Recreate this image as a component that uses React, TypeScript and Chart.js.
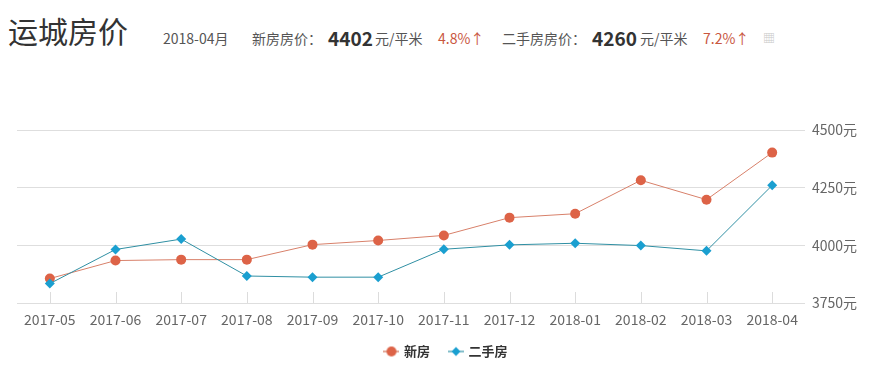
import React, { useEffect, useRef } from "react";
import { Chart, registerables } from "chart.js";

Chart.register(...registerables);

const months = ["2017-05", "2017-06", "2017-07", "2017-08", "2017-09", "2017-10", "2017-11", "2017-12", "2018-01", "2018-02", "2018-03", "2018-04"];
const newHouse = [3856, 3934, 3938, 3938, 4003, 4021, 4043, 4120, 4137, 4282, 4198, 4402];
const secondHand = [3834, 3982, 4027, 3867, 3862, 3862, 3983, 4002, 4009, 3999, 3976, 4260];
const yTicks = [3750, 4000, 4250, 4500];

const FONT = "'Noto Sans CJK SC', 'Noto Sans', sans-serif";

function makeLegendIcon(kind: "circle" | "diamond", line: string, fill: string) {
  const c = document.createElement("canvas");
  c.width = 16;
  c.height = 12;
  const ctx = c.getContext("2d")!;
  ctx.strokeStyle = line;
  ctx.lineWidth = 1.5;
  ctx.beginPath();
  ctx.moveTo(0, 6);
  ctx.lineTo(16, 6);
  ctx.stroke();
  ctx.fillStyle = fill;
  ctx.beginPath();
  if (kind === "circle") {
    ctx.arc(8, 6, 5, 0, Math.PI * 2);
  } else {
    ctx.moveTo(8, 1.5);
    ctx.lineTo(12.5, 6);
    ctx.lineTo(8, 10.5);
    ctx.lineTo(3.5, 6);
    ctx.closePath();
  }
  ctx.fill();
  return c;
}

const upTicks = {
  id: "upTicks",
  afterDatasetsDraw(chart: any) {
    const xs = chart.scales.x;
    const area = chart.chartArea;
    const ctx = chart.ctx;
    ctx.save();
    ctx.strokeStyle = "#dcdcdc";
    ctx.lineWidth = 1;
    for (let i = 0; i < months.length; i++) {
      const x = Math.round(xs.getPixelForTick(i)) + 0.5;
      ctx.beginPath();
      ctx.moveTo(x, area.bottom - 11);
      ctx.lineTo(x, area.bottom);
      ctx.stroke();
    }
    ctx.restore();
  },
};

function LineChart() {
  const ref = useRef<HTMLCanvasElement>(null);
  useEffect(() => {
    if (!ref.current) return;
    Chart.defaults.font.family = FONT;
    const icons = [
      makeLegendIcon("circle", "#d98a74", "#dd6347"),
      makeLegendIcon("diamond", "#5aa9b8", "#1a9fd0"),
    ];
    const chart = new Chart(ref.current, {
      type: "line",
      data: {
        labels: months,
        datasets: [
          {
            label: "新房",
            data: newHouse,
            borderColor: "#d8806a",
            borderWidth: 1,
            pointStyle: "circle",
            pointRadius: 5,
            pointBackgroundColor: "#dd6347",
            pointBorderColor: "#dd6347",
            pointBorderWidth: 0,
            tension: 0,
            order: 1,
          },
          {
            label: "二手房",
            data: secondHand,
            borderColor: "#2f8fa3",
            borderWidth: 1,
            pointStyle: "rectRot",
            pointRadius: 5,
            pointBackgroundColor: "#1a9fd0",
            pointBorderColor: "#1a9fd0",
            pointBorderWidth: 0,
            tension: 0,
            order: 0,
          },
        ],
      },
      options: {
        animation: false,
        responsive: false,
        maintainAspectRatio: false,
        layout: { padding: { left: 9, top: 30, right: 0, bottom: 2 } },
        plugins: {
          tooltip: { enabled: false },
          legend: {
            position: "bottom",
            labels: {
              usePointStyle: true,
              pointStyleWidth: 12,
              padding: 20,
              color: "#333",
              font: { size: 13, weight: "bold", family: FONT },
              generateLabels(chart: any) {
                const items = Chart.defaults.plugins.legend.labels.generateLabels(chart);
                items.sort((a: any, b: any) => a.datasetIndex - b.datasetIndex);
                items.forEach((it: any) => {
                  it.pointStyle = icons[it.datasetIndex];
                });
                return items;
              },
            },
          },
        },
        scales: {
          x: {
            offset: true,
            grid: { display: false, drawTicks: false },
            border: { display: false },
            ticks: {
              color: "#666",
              padding: 8,
              maxRotation: 0,
              autoSkip: false,
              font: { size: 14, family: FONT },
            },
            afterFit(scale: any) {
              scale.height = 22;
            },
          },
          y: {
            position: "right",
            min: 3750,
            max: 4500,
            afterBuildTicks(scale: any) {
              scale.ticks = yTicks.map((v) => ({ value: v }));
            },
            grid: { color: "#dedede", lineWidth: 1, drawTicks: false },
            border: { display: false },
            ticks: {
              color: "#666",
              padding: 7,
              font: { size: 14, family: FONT },
              callback: (v: any) => v + "元",
            },
            afterFit(scale: any) {
              scale.width = 71;
            },
          },
        },
      },
      plugins: [upTicks],
    } as any);
    return () => chart.destroy();
  }, []);
  return <canvas ref={ref} width={868} height={270} style={{ position: "absolute", left: 0, top: 92, width: 868, height: 270 }} />;
}

const abs = (left: number, top: number, size: number, color: string, weight = 400): React.CSSProperties => ({
  position: "absolute",
  left,
  top,
  fontSize: size,
  lineHeight: size + "px",
  color,
  fontWeight: weight,
  whiteSpace: "nowrap",
  fontFamily: FONT,
});

export default function App() {
  return (
    <div style={{ position: "relative", width: 868, height: 364, background: "#fff", fontFamily: FONT }}>
      <div style={abs(0, 7, 30, "#333")}>运城房价</div>
      <div style={abs(155, 23, 14, "#555")}>2018-04月</div>
      <div style={abs(244, 23, 14, "#555")}>新房房价：</div>
      <div style={abs(320, 20, 19, "#333", 700)}>4402</div>
      <div style={abs(367, 23, 14, "#555")}>元/平米</div>
      <div style={abs(430, 23, 14, "#c9573f")}>4.8%↑</div>
      <div style={abs(494, 23, 14, "#555")}>二手房房价：</div>
      <div style={abs(584, 20, 19, "#333", 700)}>4260</div>
      <div style={abs(632, 23, 14, "#555")}>元/平米</div>
      <div style={abs(695, 23, 14, "#c9573f")}>7.2%↑</div>
      <div style={abs(755, 24, 12, "#c8c8c8")}>▦</div>
      <LineChart />
    </div>
  );
}
